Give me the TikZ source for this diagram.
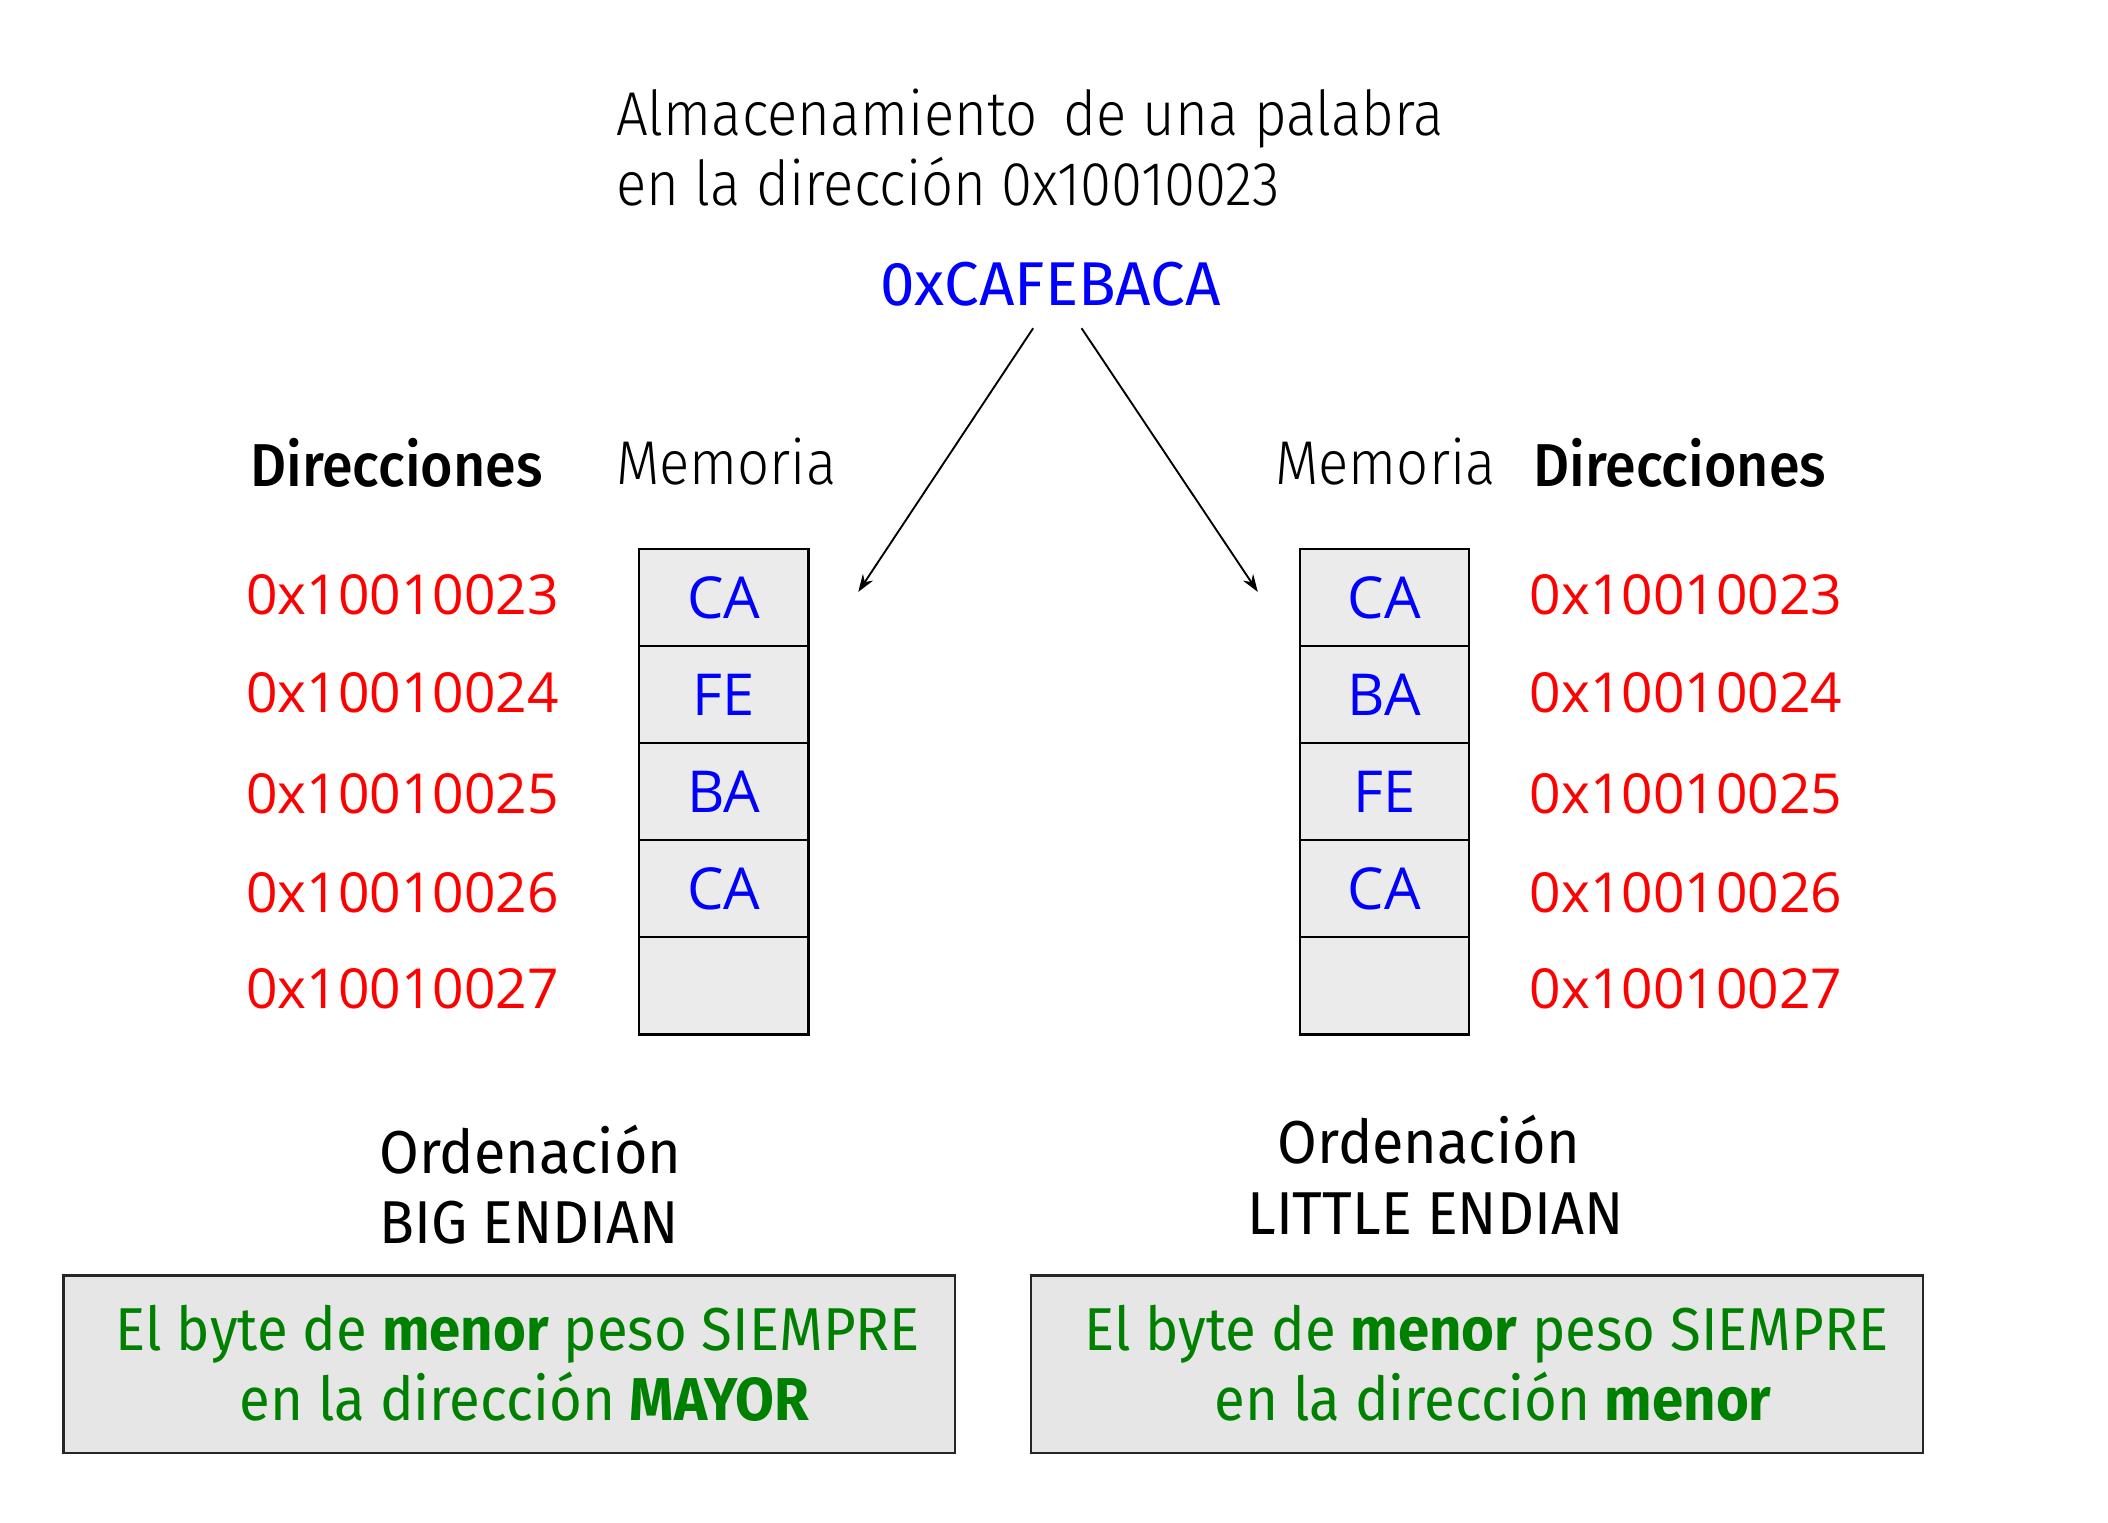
\documentclass[tikz,border=0pt]{standalone}
\usepackage{fontspec}
\setmainfont{Fira Sans}[FakeStretch=0.93]
\newfontfamily\fplain{Fira Sans}
\newfontfamily\fordn{Fira Sans}[FakeStretch=0.95]
\newfontfamily\flight{Fira Sans Light}[FakeStretch=0.91]
\newfontfamily\fmed{Fira Sans Medium}[FakeStretch=0.92]
\newfontfamily\fopen{Open Sans}
\usetikzlibrary{arrows.meta}
\definecolor{cellgray}{HTML}{EBEBEB}
\definecolor{boxgray}{HTML}{E6E6E6}
\definecolor{dgreen}{HTML}{008000}
\tikzset{
  txt/.style={inner sep=0pt, outer sep=0pt},
  lighttxt/.style={txt, font=\flight\fontsize{46}{55}\selectfont},
  headtxt/.style={txt, font=\fmed\fontsize{45}{54}\selectfont},
  ordtxt/.style={txt, font=\fordn\fontsize{45}{54}\selectfont},
  addr/.style={txt, anchor=base west, text=red, font=\fopen\fontsize{41}{50}\selectfont},
  cell/.style={draw=black, line width=1.5pt, fill=cellgray, minimum width=126pt, minimum height=72.2pt, inner sep=0pt, text=blue, font=\fopen\fontsize{43}{52}\selectfont},
  notebox/.style={draw=black!85, line width=2pt, fill=boxgray, minimum width=663pt, minimum height=132pt, inner sep=0pt},
  greentxt/.style={txt, anchor=base, text=dgreen, font=\fontsize{45}{54}\selectfont},
  conn/.style={line width=1.4pt, -{Stealth[length=13pt,width=9pt]}}
}
\begin{document}
\begin{tikzpicture}[x=1pt,y=-1pt]
\useasboundingbox (0,0) rectangle (1567,1131.4);
\fill[white] (0,0) rectangle (1567,1131.4);
% title
\node[lighttxt, anchor=base west] (t1) at (458,101) {Almacenamiento\hspace{0.42em}de una palabra};
\node[lighttxt, anchor=base west] (t2) at (458,153) {en la dirección 0x10010023};
\node[txt, anchor=base, text=blue, font=\fplain\fontsize{46}{55}\selectfont] (word) at (781,227) {0xCAFEBACA};
% arrows
\coordinate (ls) at (768,244);
\coordinate (le) at (638,440);
\coordinate (rs) at (804,244);
\coordinate (re) at (935,440);
\draw[conn] (ls) -- (le);
\draw[conn] (rs) -- (re);
% headers
\node[headtxt, anchor=base west] (dirL) at (186,362) {Direcciones};
\node[lighttxt, anchor=base west] (memL) at (458,360) {Memoria};
\node[lighttxt, anchor=base west] (memR) at (948,360) {Memoria};
\node[headtxt, anchor=base west] (dirR) at (1140,362) {Direcciones};
% left memory
\node[cell] (L1) at (538,444.1) {CA};
\node[cell] (L2) at (538,516.3) {FE};
\node[cell] (L3) at (538,588.5) {BA};
\node[cell] (L4) at (538,660.7) {CA};
\node[cell] (L5) at (538,732.9) {};
% right memory
\node[cell] (R1) at (1029,444.1) {CA};
\node[cell] (R2) at (1029,516.3) {BA};
\node[cell] (R3) at (1029,588.5) {FE};
\node[cell] (R4) at (1029,660.7) {CA};
\node[cell] (R5) at (1029,732.9) {};
% addresses
\node[addr] (aL1) at (183,457) {0x10010023};
\node[addr] (aL2) at (183,530) {0x10010024};
\node[addr] (aL3) at (183,605) {0x10010025};
\node[addr] (aL4) at (183,678) {0x10010026};
\node[addr] (aL5) at (183,750) {0x10010027};
\node[addr] (aR1) at (1137,457) {0x10010023};
\node[addr] (aR2) at (1137,530) {0x10010024};
\node[addr] (aR3) at (1137,605) {0x10010025};
\node[addr] (aR4) at (1137,678) {0x10010026};
\node[addr] (aR5) at (1137,750) {0x10010027};
% ordering labels
\node[ordtxt, anchor=base west] (oL1) at (282,872) {Ordenación};
\node[ordtxt, anchor=base west] (oL2) at (282,924) {BIG ENDIAN};
\node[ordtxt, anchor=base] (oR1) at (1062,865) {Ordenación};
\node[ordtxt, anchor=base] (oR2) at (1067,918) {LITTLE ENDIAN};
% note boxes
\node[notebox] (bL) at (378.5,1014) {};
\node[notebox] (bR) at (1098,1014) {};
\node[greentxt] (gL1) at (385,1004) {El byte de \textbf{menor} peso SIEMPRE};
\node[greentxt] (gL2) at (390,1056) {en la dirección \textbf{MAYOR}};
\node[greentxt] (gR1) at (1105,1004) {El byte de \textbf{menor} peso SIEMPRE};
\node[greentxt] (gR2) at (1110,1056) {en la dirección \textbf{menor}};
\end{tikzpicture}
\end{document}
